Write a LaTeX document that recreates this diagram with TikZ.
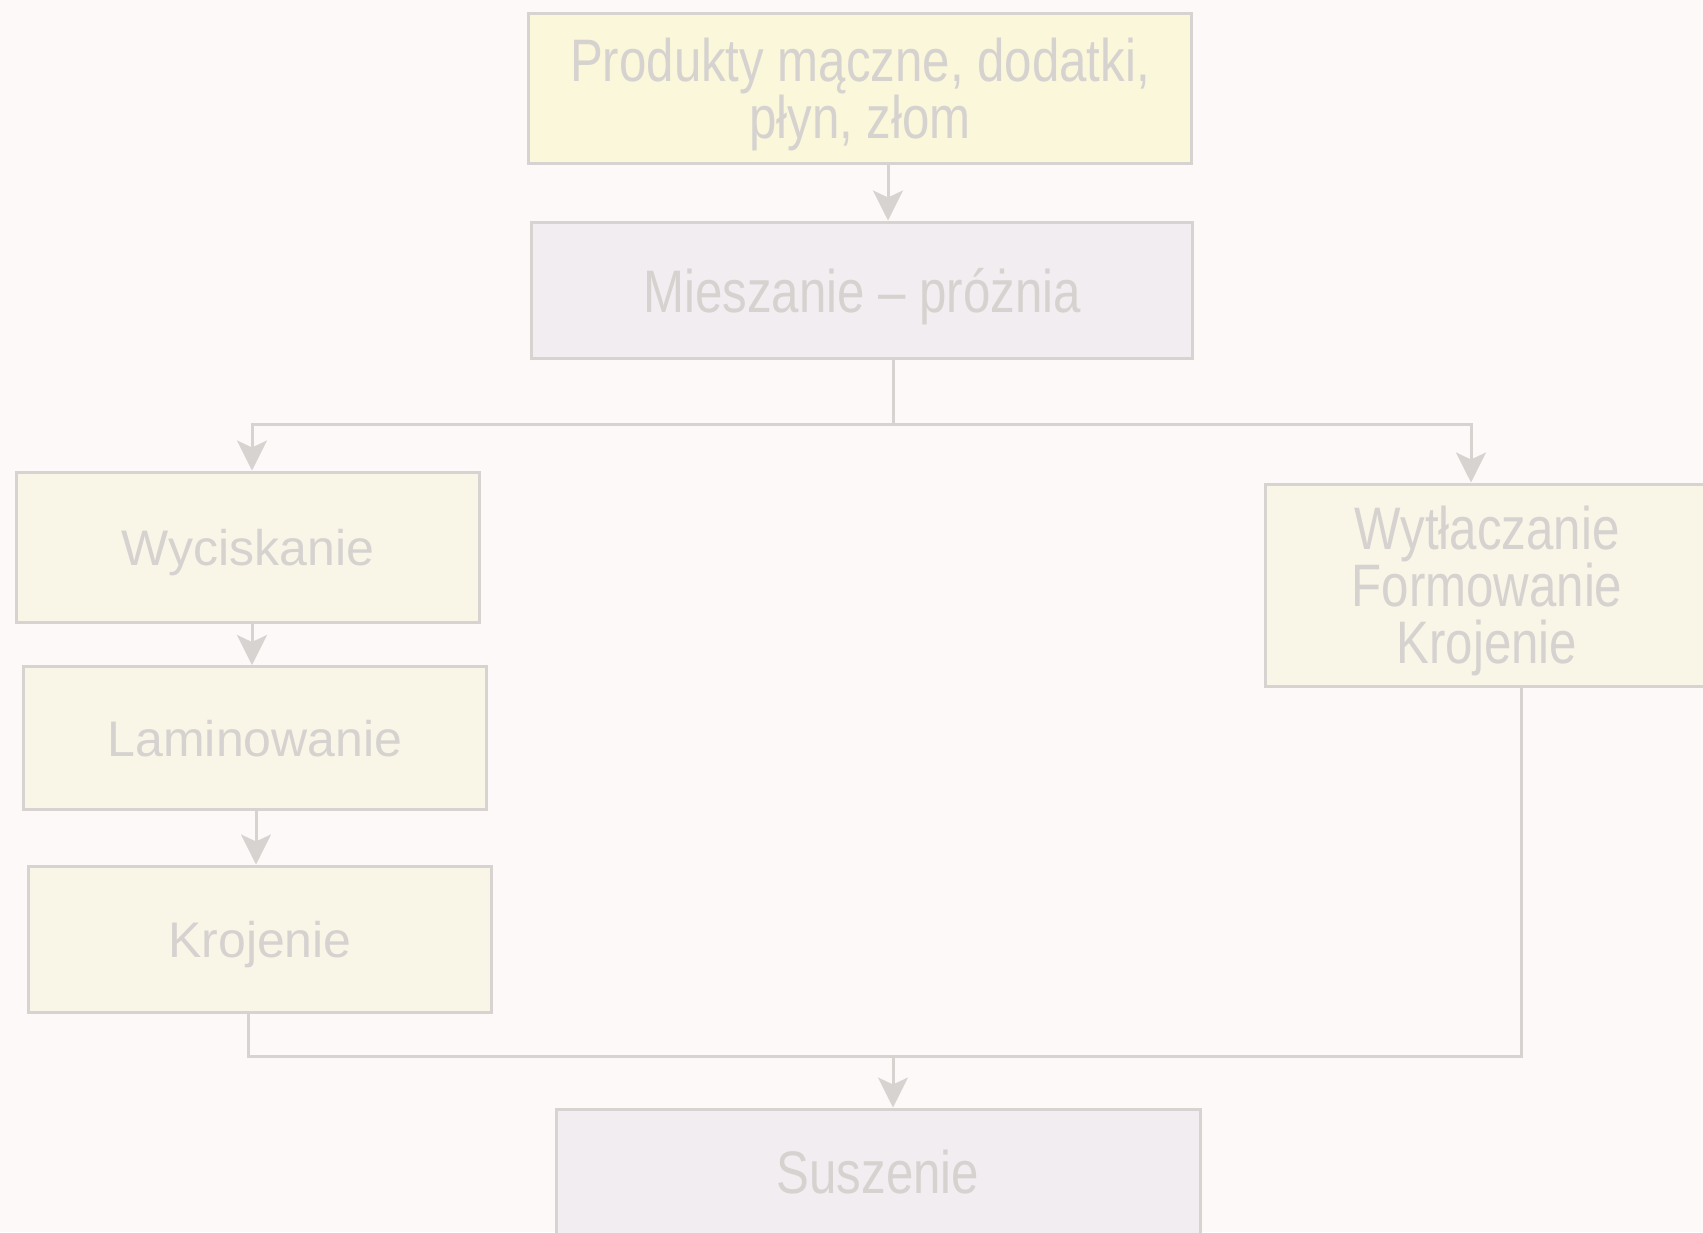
\documentclass[tikz,border=0pt]{standalone}
\usepackage{fontspec}
\setmainfont{Liberation Sans}
\newfontfamily\condfont[FakeStretch=0.82]{Liberation Sans}
\usetikzlibrary{arrows.meta,calc}
\definecolor{bgc}{HTML}{FCF9F8}
\definecolor{linec}{HTML}{D6D3D1}
\definecolor{txtc}{HTML}{D5D2D0}
\definecolor{yelA}{HTML}{FBF7DA}
\definecolor{yelB}{HTML}{F9F5E7}
\definecolor{purp}{HTML}{F1EDF0}
\tikzset{
  box/.style={draw=linec, line width=3pt, rectangle, inner sep=0pt, text=txtc, align=center, text depth=0pt},
  condtext/.style={font=\condfont\fontsize{60}{57}\selectfont},
  widetext/.style={font=\fontsize{50}{56}\selectfont},
  arr/.style={draw=linec, line width=3pt, -{Stealth[length=30pt,width=30pt,inset=7pt]}},
  ln/.style={draw=linec, line width=3pt}
}
\begin{document}
\begin{tikzpicture}[x=1pt,y=-1pt]
\useasboundingbox (0,0) rectangle (1703,1232);
\clip (0,0) rectangle (1703,1232);
\fill[bgc] (0,0) rectangle (1703,1232);

\node[box, condtext, fill=yelA, minimum width=663pt, minimum height=150pt] (top) at (860,88) {Produkty mączne, dodatki,\\płyn, złom};
\node[box, condtext, fill=purp, minimum width=661pt, minimum height=136pt] (mix) at (862,290) {Mieszanie – próżnia};
\node[box, widetext, fill=yelB, minimum width=463pt, minimum height=150pt] (wyc) at (248,547) {Wyciskanie};
\node[box, widetext, fill=yelB, minimum width=463pt, minimum height=143pt] (lam) at (255,738) {Laminowanie};
\node[box, widetext, fill=yelB, minimum width=463pt, minimum height=146pt] (kro) at (260,939) {Krojenie};
\node[box, condtext, fill=yelB, minimum width=444pt, minimum height=202pt] (rgt) at (1487,585) {Wytłaczanie\\Formowanie\\Krojenie};
\node[box, condtext, fill=purp, minimum width=644pt, minimum height=126pt] (sus) at (878,1172) {Suszenie};

\coordinate (xa) at (888,0);
\coordinate (xb) at (893,0);
\coordinate (xl) at (252,0);
\coordinate (xl2) at (256,0);
\coordinate (xk) at (248,0);
\coordinate (xr) at (1471,0);
\coordinate (xr2) at (1521,0);
\coordinate (ysplit) at (0,424);
\coordinate (yjoin) at (0,1056);

\draw[arr] (xa |- top.south) -- (xa |- mix.north);
\draw[ln] (xb |- mix.south) -- (xb |- ysplit);
\draw[arr] (xb |- ysplit) -- (xl |- ysplit) -- (xl |- wyc.north);
\draw[arr] (xb |- ysplit) -- (xr |- ysplit) -- (xr |- rgt.north);
\draw[arr] (xl |- wyc.south) -- (xl |- lam.north);
\draw[arr] (xl2 |- lam.south) -- (xl2 |- kro.north);
\draw[ln] (xk |- kro.south) -- (xk |- yjoin) -- (xr2 |- yjoin) -- (xr2 |- rgt.south);
\draw[arr] (xb |- yjoin) -- (xb |- sus.north);
\end{tikzpicture}
\end{document}
